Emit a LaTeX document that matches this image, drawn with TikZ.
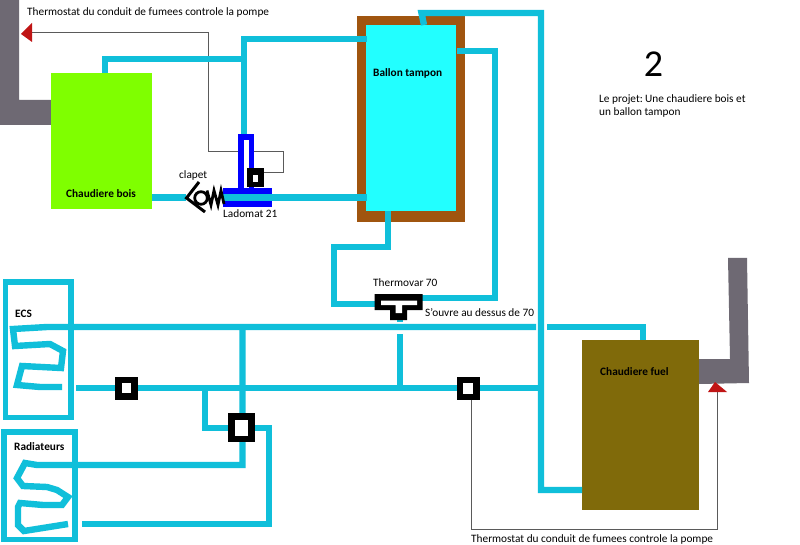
\documentclass[tikz,border=0pt]{standalone}
\usepackage{fontspec}
\setmainfont{Carlito}
\definecolor{pipe}{HTML}{10BFDA}
\definecolor{smoke}{HTML}{6E6973}
\definecolor{brownb}{HTML}{A0550F}
\definecolor{tankc}{HTML}{22FFFF}
\definecolor{greenb}{HTML}{7FFF00}
\definecolor{fuelb}{HTML}{806A0A}
\definecolor{redm}{HTML}{C01515}
\definecolor{wirec}{HTML}{5A5A5A}
\tikzset{
 pipeline/.style={draw=pipe,line width=6.4pt,miter limit=10},
 wire/.style={draw=wirec,line width=0.8pt},
 lab/.style={anchor=base west,inner sep=0pt,text=black,font=\fontsize{11.3}{13}\selectfont},
 blab/.style={lab,font=\fontsize{11.3}{13}\selectfont\bfseries,text=black},
 pumpo/.style={fill=black,draw=none},
 pumpi/.style={fill=white,draw=none}
}
\begin{document}
\begin{tikzpicture}[x=1pt,y=-1pt]
\useasboundingbox (0,0) rectangle (800,545);
\fill[white] (0,0) rectangle (800,545);
% wires
\draw[wire] (32,32) -- (208,32) -- (208,151) -- (283.5,151) -- (283.5,172.5) -- (263,172.5);
\draw[wire] (471,399) -- (471,529) -- (717,529) -- (717,391);
% chimneys
\fill[smoke] (0,0) -- (19,0) -- (19,100) -- (52,100) -- (51,125) -- (0,125) -- cycle;
\fill[smoke] (698,359) -- (730,359) -- (728,258) -- (747,258) -- (749,383) -- (699,384) -- cycle;
\fill[redm] (21,34) -- (32,23) -- (32,42) -- cycle;
\fill[redm] (715,382) -- (727,392) -- (708,392) -- cycle;
% boilers and tank
\fill[greenb] (51,73) rectangle (152,209);
\fill[fuelb] (582,340) rectangle (699,510);
\fill[brownb] (357,16) rectangle (465,222);
\fill[tankc] (366,25) rectangle (456,211);
% ladomat body
\fill[blue] (223,188) rectangle (272,207.5);
\fill[blue] (238,134) rectangle (254,188);
\fill[white] (244,140) rectangle (248.7,188);
% pipes upper
\draw[pipeline] (105,73) -- (105,59) -- (244,59);
\draw[pipeline] (244,134) -- (244,39) -- (367,39);
\draw[pipeline] (152,197.5) -- (186,197.5);
\draw[pipeline] (222,197.5) -- (367,197.5);
\draw[pipeline] (424,25) -- (421.5,13) -- (541,13) -- (541,490) -- (582,490);
\draw[pipeline] (457,51) -- (495,51) -- (495,298) -- (422,298);
\draw[pipeline] (388,211) -- (388,247) -- (334,247) -- (334,304) -- (375,304);
% pipes lower
\draw[pipeline] (536,327) -- (47,327) -- (13,329) -- (15,346) -- (50,344) -- (63,351) -- (61,368) -- (22,366) -- (17,385) -- (40,387) -- (62,387);
\draw[pipeline] (547,327) -- (643,327) -- (643,340);
\draw[pipeline] (76,388) -- (541,388);
\draw[pipeline] (400,334) -- (400,388);
\draw[pipeline] (400,318) -- (400,322);
\draw[pipeline] (242.5,327) -- (242.5,465) -- (37,465) -- (25,463) -- (17,478) -- (23,486) -- (47,487) -- (57,490) -- (68,497) -- (62,505) -- (43,505) -- (20,503) -- (18,507) -- (18,525) -- (24,531) -- (68,524);
\draw[pipeline] (205,388) -- (205,428) -- (228,428);
\draw[pipeline] (254,428) -- (269,428) -- (269,524) -- (81.5,524);
% rooms
\draw[draw=pipe,line width=5.8pt] (5.5,282) rectangle (71,417.5);
\draw[draw=pipe,line width=5.8pt] (4,432) rectangle (75,539.5);
% pumps
\fill[pumpo] (115,376.5) rectangle (137.5,399.5);
\fill[pumpi] (121.5,383) rectangle (131,393);
\fill[pumpo] (457,376.5) rectangle (479.5,400);
\fill[pumpi] (463,383) rectangle (473,393.5);
\fill[pumpo] (227.5,413) rectangle (254.5,442);
\fill[pumpi] (235,420) rectangle (247.5,436);
\fill[pumpo] (247,168) rectangle (264,187);
\fill[pumpi] (252.5,175) rectangle (258,182);
% thermovar
\fill[pumpo] (374.5,294) -- (422.5,294) -- (422.5,310) -- (407,310) -- (407,320) -- (390,320) -- (390,310) -- (374.5,310) -- cycle;
\fill[pumpi] (381,300.5) -- (417,300.5) -- (417,305) -- (402,305) -- (402,313) -- (395.5,313) -- (395.5,305) -- (381,305) -- cycle;
% clapet
\draw[black,line width=3pt] (199,182) -- (186.5,198) -- (205,212);
\draw[black,line width=2.8pt] (201,198) circle (6.3);
\draw[black,line width=2.8pt] (207,190.5) -- (211,205) -- (214,190.5) -- (218,205) -- (221,190.5) -- (224,204);
% labels
\node[lab] (t1) at (27,16) {Thermostat du conduit de fumees controle la pompe};
\node[lab] (t2) at (471,542) {Thermostat du conduit de fumees controle la pompe};
\node[blab] (t3) at (373,77) {Ballon tampon};
\node[anchor=base,inner sep=0pt,text=black,font=\fontsize{38}{40}\selectfont] (t4) at (653.5,77) {2};
\node[lab] (t5) at (599,103) {Le projet:{\spaceskip=1.5pt\relax{} }Une chaudiere bois et};
\node[lab] (t6) at (599,116) {un ballon tampon};
\node[blab] (t7) at (66,198) {Chaudiere bois};
\node[lab] (t8) at (179,179) {clapet};
\node[lab] (t9) at (223,218) {Ladomat 21};
\node[lab] (t10) at (373,287) {Thermovar 70};
\node[lab] (t11) at (425,316) {S'ouvre au dessus de 70};
\node[blab] (t12) at (15,317) {ECS};
\node[blab] (t13) at (14,450) {Radiateurs};
\node[blab] (t14) at (600,375) {Chaudiere fuel};
\end{tikzpicture}
\end{document}
